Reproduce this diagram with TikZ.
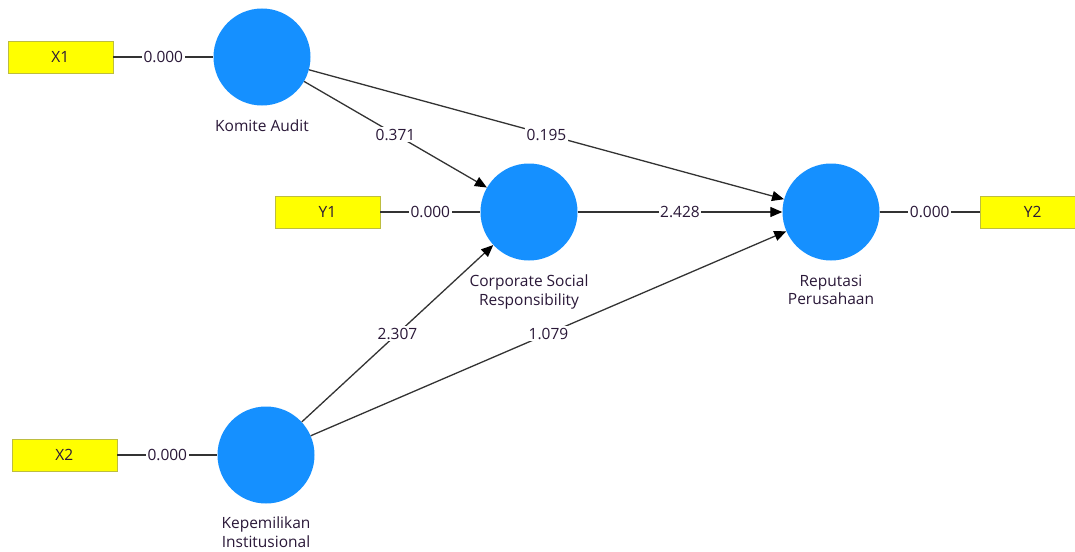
\documentclass[tikz,border=0pt]{standalone}
\usepackage{fontspec}
\setmainfont{Open Sans}
\usetikzlibrary{arrows.meta, positioning}
\definecolor{latent}{HTML}{1590FF}
\definecolor{indic}{HTML}{FFFF00}
\definecolor{indicborder}{HTML}{BDBD40}
\definecolor{ink}{HTML}{2A1838}
\definecolor{edge}{HTML}{333333}

\begin{document}
\begin{tikzpicture}[
  x=1pt, y=-1pt,
  latentvar/.style={circle, fill=latent, draw=none, minimum size=97pt, inner sep=0pt},
  indicator/.style={rectangle, fill=indic, draw=indicborder, line width=0.8pt,
                    minimum width=105pt, minimum height=32pt,
                    font=\fontsize{15.5}{18}\selectfont, text=ink},
  varname/.style={font=\fontsize{15.5}{18.5}\selectfont, text=ink, align=center, inner sep=0pt},
  wt/.style={fill=white, font=\fontsize{15.5}{18}\selectfont, text=ink, inner sep=1.5pt},
  link/.style={draw=edge, line width=1.3pt},
  arr/.style={link, -{Triangle[length=12pt, width=10pt, color=black]}},
]
  \clip (0,0) rectangle (1075,551);

  % Latent variables
  \node[latentvar] (ka) at (262,57) {};
  \node[latentvar] (csr) at (529,212) {};
  \node[latentvar] (rep) at (831,212) {};
  \node[latentvar] (kp) at (266,455) {};

  % Names
  \node[varname, below=14pt of ka] (kaname) {Komite Audit};
  \node[varname, below=14pt of csr] (csrname) {Corporate Social\\Responsibility};
  \node[varname, below=14pt of rep] (repname) {Reputasi\\Perusahaan};
  \node[varname, below=13pt of kp] (kpname) {Kepemilikan\\Institusional};

  % Indicators
  \node[indicator, left=100pt of ka] (x1) {X1};
  \node[indicator, left=100pt of csr] (y1) {Y1};
  \node[indicator, left=100pt of kp] (x2) {X2};
  \node[indicator, right=100pt of rep] (y2) {Y2};

  % Outer loadings
  \draw[link] (x1) -- node[wt] {0.000} (ka);
  \draw[link] (y1) -- node[wt] {0.000} (csr);
  \draw[link] (x2) -- node[wt] {0.000} (kp);
  \draw[link] (rep) -- node[wt] {0.000} (y2);

  % Inner paths
  \draw[arr] (ka) -- node[wt] {0.371} (csr);
  \draw[arr] (ka) -- node[wt] {0.195} (rep);
  \draw[arr] (csr) -- node[wt] {2.428} (rep);
  \draw[arr] (kp) -- node[wt] {2.307} (csr);
  \draw[arr] (kp) -- node[wt] {1.079} (rep);

\end{tikzpicture}
\end{document}
